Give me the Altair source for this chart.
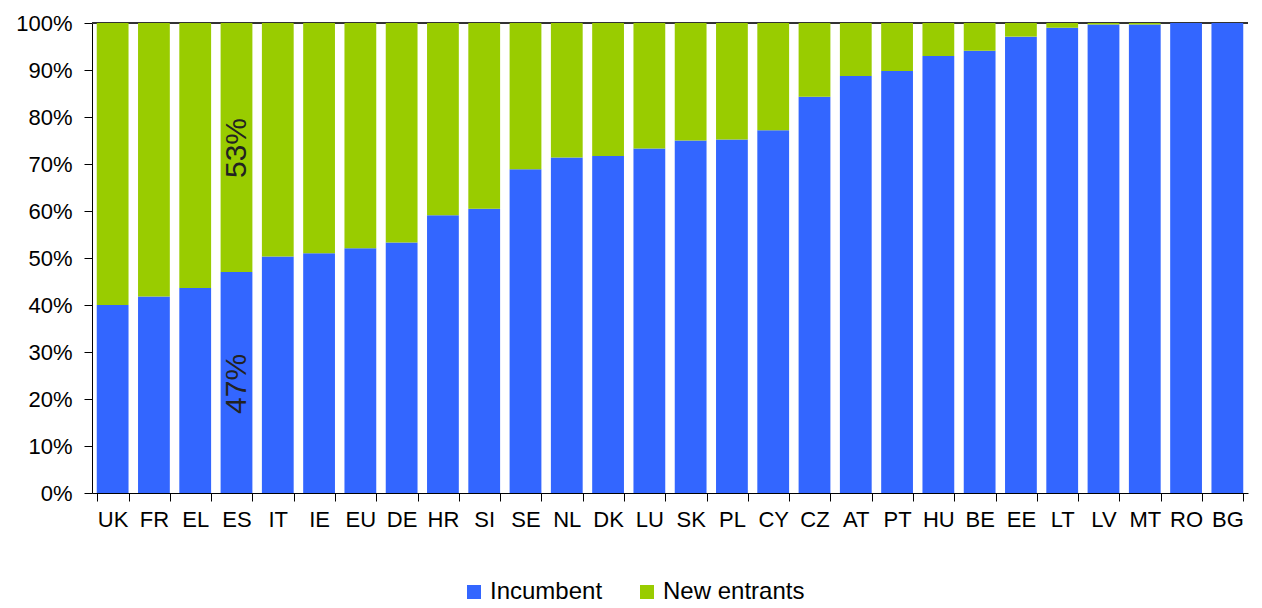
import altair as alt
import pandas as pd

countries = ["UK", "FR", "EL", "ES", "IT", "IE", "EU", "DE", "HR", "SI", "SE", "NL", "DK", "LU",
             "SK", "PL", "CY", "CZ", "AT", "PT", "HU", "BE", "EE", "LT", "LV", "MT", "RO", "BG"]
incumbent = [40.0, 41.8, 43.6, 47.0, 50.3, 51.0, 52.1, 53.3, 59.1, 60.5, 68.9, 71.4, 71.7, 73.3,
             75.0, 75.2, 77.2, 84.3, 88.7, 89.8, 93.0, 94.1, 97.1, 99.0, 99.7, 99.7, 100.0, 100.0]
new_entrants = [60.0, 58.2, 56.4, 53.0, 49.7, 49.0, 47.9, 46.7, 40.9, 39.5, 31.1, 28.6, 28.3, 26.7,
                25.0, 24.8, 22.8, 15.7, 11.3, 10.2, 7.0, 5.9, 2.9, 1.0, 0.3, 0.3, 0.0, 0.0]
series = ["Incumbent", "New entrants"]
colors = ["#3366FF", "#99CC00"]

ann_country = ["ES", "ES"]
ann_value = [73.4, 23.2]
ann_text = ["53%", "47%"]

rows = []
for c, a, b in zip(countries, incumbent, new_entrants):
    rows.append({"country": c, "series": series[0], "value": a, "ord": 0})
    rows.append({"country": c, "series": series[1], "value": b, "ord": 1})
df = pd.DataFrame(rows)
ann = pd.DataFrame({"country": ann_country, "value": ann_value, "text": ann_text})

FONT = "Liberation Sans"

x = alt.X("country:N", sort=countries, title=None,
          scale=alt.Scale(paddingInner=0.23, paddingOuter=0.115),
          axis=alt.Axis(labelAngle=0, tickBand="extent", labelFontSize=22, labelFont=FONT,
                        labelColor="#000000", tickSize=8, labelPadding=8, domainColor="#000000",
                        tickColor="#000000", grid=False))

bars = alt.Chart(df).mark_bar().encode(
    x=x,
    y=alt.Y("value:Q", stack="zero", title=None,
            scale=alt.Scale(domain=[0, 100], nice=False),
            axis=alt.Axis(values=list(range(0, 101, 10)), labelExpr="datum.value + '%'",
                          labelFontSize=22, labelFont=FONT, labelColor="#000000",
                          tickSize=8, labelPadding=12, domainColor="#000000",
                          tickColor="#000000", gridColor="#a0a0a0", gridWidth=1)),
    color=alt.Color("series:N", scale=alt.Scale(domain=series, range=colors),
                    legend=alt.Legend(title=None, orient="none", legendX=370, legendY=557,
                                      direction="horizontal", symbolType="square",
                                      symbolSize=196, symbolStrokeWidth=0,
                                      labelFontSize=24, labelFont=FONT, labelColor="#000000",
                                      labelOffset=4, columnPadding=32)),
    order=alt.Order("ord:Q"),
)

top_rule = alt.Chart(df).mark_rule(color="#333333", strokeWidth=1).encode(
    y=alt.datum(100)
)

texts = alt.Chart(ann).mark_text(angle=270, fontSize=30, font=FONT, color="#222222",
                                 align="center", baseline="middle").encode(
    x=alt.X("country:N", sort=countries),
    y=alt.Y("value:Q"),
    text="text:N",
)

chart = alt.layer(top_rule, bars, texts).properties(
    width=1156, height=470,
    autosize="none",
    padding={"left": 84, "top": 15, "right": 6, "bottom": 110},
).configure_view(stroke=None)

chart.save("out.html", embed_options={"renderer": "svg", "actions": False})
